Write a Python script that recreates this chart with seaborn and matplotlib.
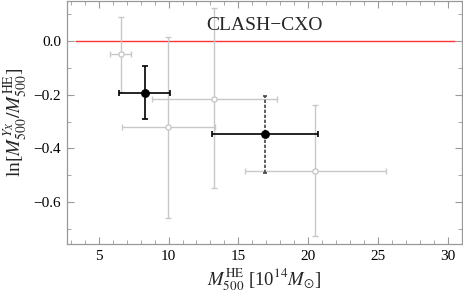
import numpy as np
import pandas as pd
import seaborn as sns
import matplotlib.pyplot as plt
from matplotlib.ticker import MultipleLocator

# individual clusters (light gray)
gray_x = [6.57, 9.99, 13.29, 20.49]
gray_y = [-0.048, -0.322, -0.215, -0.483]
gray_xlo = [5.8, 6.67, 8.84, 15.51]
gray_xhi = [7.3, 13.34, 17.79, 25.56]
gray_ylo = [-0.19, -0.66, -0.548, -0.727]
gray_yhi = [0.09, 0.016, 0.122, -0.237]

# binned points (black)
bin_x = [8.32, 16.93]
bin_y = [-0.193, -0.348]
bin_xlo = [6.47, 13.14]
bin_xhi = [10.09, 20.7]
bin_ylo = [-0.291, -0.49]
bin_yhi = [-0.094, -0.205]
bin_dashed = [False, True]

ref_y = 0.0
ref_span = [3.27, 30.55]
label = "CLASH\u2212CXO"


def main():
    sns.set_style("ticks")
    plt.rcParams["font.family"] = ["Liberation Serif", "DejaVu Serif"]
    plt.rcParams["mathtext.fontset"] = "stix"

    fig = plt.figure(figsize=(4.63, 2.94), dpi=100)
    ax = fig.add_axes([0.144, 0.169, 0.853, 0.829])

    frame = "#999999"
    light = "#c8c8c8"

    ax.hlines(ref_y, ref_span[0], ref_span[1], color="#ff3333", lw=1.0, zorder=1)

    g = pd.DataFrame({"x": gray_x, "y": gray_y})
    gx = np.array(gray_x)
    gy = np.array(gray_y)
    ax.errorbar(gx, gy,
                xerr=[gx - np.array(gray_xlo), np.array(gray_xhi) - gx],
                yerr=[gy - np.array(gray_ylo), np.array(gray_yhi) - gy],
                fmt="none", ecolor=light, elinewidth=1.0, capsize=2, capthick=1.0, zorder=2)
    sns.scatterplot(data=g, x="x", y="y", ax=ax, s=14, facecolor="white",
                    edgecolor=light, linewidth=1.0, zorder=3)

    b = pd.DataFrame({"x": bin_x, "y": bin_y})
    for i in range(len(bin_x)):
        x, y = bin_x[i], bin_y[i]
        ax.errorbar([x], [y], xerr=[[x - bin_xlo[i]], [bin_xhi[i] - x]],
                    fmt="none", ecolor="black", elinewidth=1.2, capsize=2.5, capthick=1.2, zorder=4)
        if bin_dashed[i]:
            eb = ax.errorbar([x], [y], yerr=[[y - bin_ylo[i]], [bin_yhi[i] - y]],
                             fmt="none", ecolor="#444444", elinewidth=1.2, capsize=1.5,
                             capthick=1.2, zorder=4)
            eb[2][0].set_linestyle((0, (2, 1)))
        else:
            ax.errorbar([x], [y], yerr=[[y - bin_ylo[i]], [bin_yhi[i] - y]],
                        fmt="none", ecolor="black", elinewidth=1.2, capsize=2.5,
                        capthick=1.2, zorder=4)
    sns.scatterplot(data=b, x="x", y="y", ax=ax, s=34, color="black",
                    edgecolor="black", zorder=5)

    ax.set_xlim(2.7, 31.0)
    ax.set_ylim(-0.757, 0.15)
    ax.xaxis.set_major_locator(MultipleLocator(5))
    ax.xaxis.set_minor_locator(MultipleLocator(1))
    ax.yaxis.set_major_locator(MultipleLocator(0.2))
    ax.yaxis.set_minor_locator(MultipleLocator(0.1))
    ax.yaxis.set_major_formatter(plt.FuncFormatter(lambda v, p: f"{v:.1f}".replace("-", "\u2212")))

    for s in ax.spines.values():
        s.set_color(frame)
        s.set_linewidth(0.9)
    ax.tick_params(which="both", direction="in", top=True, right=True, color=frame,
                   labelsize=11, labelcolor="black", pad=4)
    ax.tick_params(which="major", length=5, width=0.8)
    ax.tick_params(which="minor", length=3, width=0.6)

    ax.text(0.5, 0.881, label, transform=ax.transAxes, fontsize=14, ha="center", va="baseline")

    ax.set_xlabel(r"$M_{500}^{\rm HE}$ [10$^{14}M_{\odot}$]", fontsize=13.5, labelpad=3)
    ax.set_ylabel(r"ln[$M_{500}^{Y_X}/M_{500}^{\rm HE}$]", fontsize=14, labelpad=3)

    fig.savefig("out.png", dpi=100)


if __name__ == "__main__":
    main()
